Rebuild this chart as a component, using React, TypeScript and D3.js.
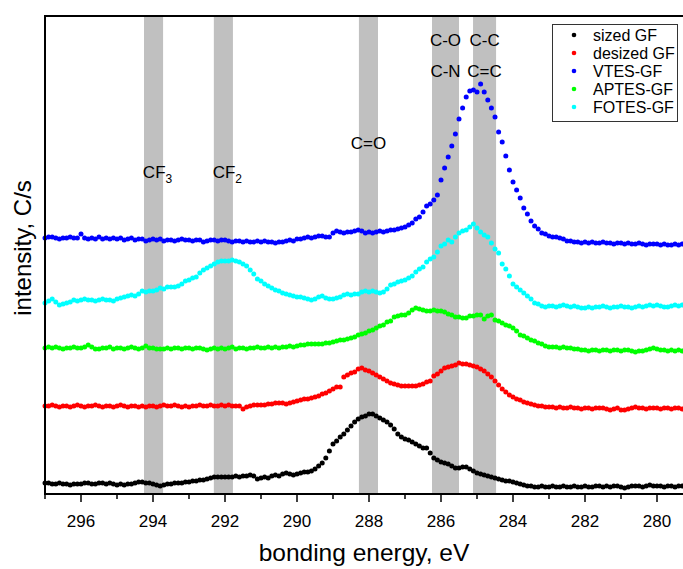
import React from 'react';
import * as d3 from 'd3';

// binding energy grid of the scan, eV (0.1 eV steps)
const energies: number[] = d3.range(0, 180).map(i => +(297 - i * 0.1).toFixed(1));

const seriesNames = ['sized GF', 'desized GF', 'VTES-GF', 'APTES-GF', 'FOTES-GF'];
const seriesColors = ['#000000', '#ff0000', '#0000ff', '#00ff00', '#00ffff'];

// intensities (arbitrary units, curves offset)
const sizedGF = [
  10, 10, 9, 9, 10, 9, 9, 8, 9, 9,
  9, 10, 10, 9, 9, 10, 10, 9, 10, 9,
  8, 9, 8, 9, 9, 10, 11, 11, 10, 10,
  9, 8, 7, 8, 9, 9, 10, 10, 10, 11,
  11, 12, 12, 13, 13, 14, 15, 16, 16, 16,
  16, 16, 16, 17, 16, 17, 17, 18, 17, 14,
  15, 16, 15, 17, 18, 17, 19, 20, 19, 18,
  19, 20, 21, 21, 22, 24, 27, 30, 35, 42,
  49, 52, 56, 59, 63, 67, 71, 74, 76, 77,
  79, 79, 77, 75, 73, 71, 68, 64, 59, 56,
  54, 53, 51, 49, 47, 45, 45, 40, 35, 33,
  31, 30, 29, 27, 25, 25, 26, 26, 24, 22,
  20, 19, 18, 17, 16, 15, 14, 13, 12, 12,
  11, 10, 9, 8, 7, 7, 6, 6, 7, 6,
  6, 7, 6, 6, 7, 6, 6, 7, 6, 6,
  7, 6, 6, 7, 7, 6, 7, 6, 7, 7,
  6, 5, 6, 7, 7, 7, 6, 7, 8, 7,
  7, 7, 6, 7, 7, 6, 7, 7, 6, 7,
];
const desizedGF = [
  87, 87, 88, 87, 86, 87, 87, 86, 87, 88,
  87, 86, 87, 87, 88, 87, 86, 87, 87, 86,
  87, 88, 87, 86, 87, 87, 86, 87, 86, 87,
  87, 86, 87, 88, 87, 87, 88, 87, 86, 87,
  86, 87, 87, 88, 87, 87, 88, 87, 87, 88,
  87, 88, 87, 87, 87, 84, 86, 87, 88, 88,
  88, 88, 89, 89, 90, 90, 90, 89, 90, 91,
  92, 93, 94, 94, 95, 96, 97, 99, 100, 102,
  104, 106, 106, 116, 118, 120, 121, 124, 125, 123,
  122, 120, 118, 116, 114, 112, 110, 109, 108, 107,
  107, 107, 107, 107, 108, 109, 111, 112, 117, 119,
  122, 125, 126, 127, 128, 130, 129, 129, 128, 127,
  126, 124, 122, 119, 116, 112, 108, 104, 101, 98,
  96, 94, 93, 91, 90, 89, 88, 87, 87, 86,
  86, 86, 85, 86, 85, 85, 86, 85, 85, 84,
  85, 85, 84, 85, 85, 85, 84, 83, 84, 85,
  83, 83, 84, 85, 86, 85, 85, 84, 85, 85,
  85, 84, 85, 85, 84, 85, 85, 84, 85, 85,
];
const vtesGF = [
  255, 256, 256, 255, 254, 255, 255, 256, 255, 255,
  259, 255, 254, 255, 254, 256, 254, 255, 254, 255,
  254, 255, 253, 254, 255, 253, 254, 254, 252, 253,
  254, 253, 254, 252, 253, 253, 252, 253, 254, 253,
  253, 252, 253, 253, 251, 252, 253, 253, 252, 253,
  253, 252, 251, 252, 252, 251, 252, 251, 251, 252,
  251, 252, 251, 251, 250, 251, 251, 252, 253, 252,
  254, 254, 255, 256, 255, 256, 257, 257, 256, 256,
  260, 262, 261, 260, 261, 261, 262, 263, 262, 260,
  261, 260, 261, 262, 261, 262, 263, 263, 264, 265,
  266, 268, 270, 274, 276, 281, 287, 289, 293, 298,
  313, 325, 336, 347, 359, 374, 385, 396, 402, 403,
  401, 409, 401, 393, 385, 376, 361, 351, 337, 323,
  311, 303, 295, 285, 279, 272, 267, 264, 260, 259,
  257, 256, 256, 255, 254, 252, 252, 251, 251, 250,
  251, 250, 251, 250, 250, 251, 250, 250, 249, 250,
  250, 249, 250, 249, 249, 250, 249, 248, 249, 249,
  249, 248, 249, 248, 248, 249, 248, 249, 248, 248,
];
const aptesGF = [
  145, 146, 145, 146, 145, 144, 145, 145, 146, 145,
  145, 146, 148, 146, 144, 144, 145, 145, 146, 144,
  145, 145, 144, 145, 146, 145, 144, 145, 147, 145,
  145, 144, 144, 144, 145, 144, 145, 145, 144, 145,
  145, 144, 145, 145, 144, 143, 144, 145, 144, 145,
  144, 145, 146, 144, 145, 145, 144, 145, 145, 146,
  145, 145, 146, 145, 146, 145, 146, 146, 147, 146,
  147, 148, 148, 149, 149, 149, 149, 149, 150, 150,
  151, 152, 153, 153, 154, 155, 156, 158, 159, 160,
  162, 163, 165, 167, 168, 171, 172, 176, 177, 178,
  178, 180, 183, 185, 184, 183, 182, 182, 183, 182,
  182, 181, 179, 178, 176, 176, 175, 175, 177, 177,
  178, 178, 174, 177, 178, 173, 172, 170, 168, 167,
  165, 162, 158, 157, 155, 153, 152, 150, 149, 147,
  146, 146, 146, 145, 146, 145, 145, 144, 144, 143,
  143, 142, 143, 143, 142, 143, 143, 142, 143, 143,
  142, 143, 143, 142, 141, 142, 142, 143, 144, 145,
  144, 143, 143, 142, 143, 142, 143, 142, 143, 142,
];
const fotesGF = [
  190, 192, 194, 191, 188, 189, 190, 191, 193, 192,
  193, 194, 193, 193, 192, 193, 194, 193, 193, 192,
  194, 195, 196, 197, 198, 197, 199, 202, 201, 202,
  202, 203, 205, 204, 206, 206, 206, 207, 209, 212,
  213, 215, 216, 220, 223, 225, 227, 229, 231, 232,
  232, 232, 233, 232, 231, 229, 227, 223, 219, 214,
  212, 209, 207, 205, 203, 202, 200, 199, 198, 197,
  196, 196, 195, 194, 193, 194, 196, 197, 195, 194,
  194, 195, 196, 198, 199, 198, 199, 199, 201, 202,
  201, 202, 201, 200, 201, 204, 208, 209, 211, 212,
  213, 215, 217, 221, 224, 226, 231, 234, 236, 241,
  247, 249, 253, 251, 256, 260, 262, 263, 266, 269,
  265, 261, 258, 256, 250, 244, 240, 229, 224, 217,
  209, 206, 203, 200, 197, 194, 190, 189, 187, 186,
  187, 187, 186, 187, 188, 187, 186, 187, 186, 185,
  185, 186, 185, 186, 186, 187, 186, 185, 186, 186,
  187, 186, 186, 185, 186, 187, 186, 187, 188, 187,
  188, 187, 186, 186, 187, 188, 187, 188, 187, 187,
];
const seriesValues = [sizedGF, desizedGF, vtesGF, aptesGF, fotesGF];

// shaded reference bands (eV limits) and their labels
const bandHigh = [294.25, 292.31, 288.28, 286.25, 285.11];
const bandLow = [293.72, 291.78, 287.75, 285.5, 284.47];
const bandLabels = [['CF', '3'], ['CF', '2'], ['C=O', ''], ['C-O', ''], ['C-C', '']];
const bandLabels2 = ['', '', '', 'C-N', 'C=C'];
const bandLabelY = [178, 178, 149, 46, 46];

const majorTicks = [296, 294, 292, 290, 288, 286, 284, 282, 280];
const minorTicks = [297, 295, 293, 291, 289, 287, 285, 283, 281, 279];

const W = 683;
const H = 569;
const FONT = '"Liberation Sans", Arial, Helvetica, sans-serif';

export default function App() {
  const left = 45, top = 16, bottom = 494;
  const x = d3.scaleLinear().domain([297, 279]).range([left, left + 18 * 36]);
  const y = d3.scaleLinear().domain([0, 477]).range([493, top]);
  const plotRight = W + 10;

  return (
    <svg width={W} height={H} style={{ position: 'absolute', left: 0, top: 0, background: '#fff', fontFamily: FONT }}>
      {/* bands */}
      {bandHigh.map((b, i) => (
        <rect key={'b' + i} x={x(b)} y={top} width={x(bandLow[i]) - x(b)} height={bottom - top} fill="#c0c0c0" />
      ))}
      {/* band labels */}
      {bandLabels.map((l, i) => {
        const cx = (x(bandHigh[i]) + x(bandLow[i])) / 2;
        return (
          <g key={'l' + i}>
            <text x={cx + (l[1] ? 4 : 0)} y={bandLabelY[i]} textAnchor="middle" fontSize={17} fill="#000">
              {l[0]}
              {l[1] && <tspan fontSize={12} dy={5}>{l[1]}</tspan>}
            </text>
            {bandLabels2[i] && (
              <text x={cx} y={bandLabelY[i] + 31} textAnchor="middle" fontSize={17} fill="#000">{bandLabels2[i]}</text>
            )}
          </g>
        );
      })}
      {/* points */}
      {seriesValues.map((vals, s) => (
        <g key={'s' + s} fill={seriesColors[s]}>
          {vals.map((v, i) => (
            <circle key={i} cx={x(energies[i])} cy={y(v)} r={2.5} />
          ))}
        </g>
      ))}
      {/* frame */}
      <line x1={left} x2={left} y1={top - 1} y2={bottom + 1} stroke="#000" strokeWidth={2} />
      <line x1={left - 1} x2={plotRight} y1={top} y2={top} stroke="#000" strokeWidth={2} />
      <line x1={left - 1} x2={plotRight} y1={bottom} y2={bottom} stroke="#000" strokeWidth={2} />
      {/* ticks */}
      {majorTicks.map(t => (
        <g key={'t' + t}>
          <line x1={x(t)} x2={x(t)} y1={bottom} y2={bottom + 8} stroke="#000" strokeWidth={1.5} />
          <text x={x(t)} y={527} textAnchor="middle" fontSize={17} fill="#000">{t}</text>
        </g>
      ))}
      {minorTicks.map(t => (
        <line key={'m' + t} x1={x(t)} x2={x(t)} y1={bottom} y2={bottom + 5} stroke="#000" strokeWidth={1.5} />
      ))}
      {/* axis titles */}
      <text x={364} y={561} textAnchor="middle" fontSize={24.5} fill="#000">bonding energy, eV</text>
      <text transform="translate(31,248) rotate(-90)" textAnchor="middle" fontSize={24} fill="#000">intensity, C/s</text>
      {/* legend */}
      <rect x={552.5} y={24.5} width={125} height={97} fill="#fff" stroke="#333" strokeWidth={1} />
      {seriesNames.map((n, i) => (
        <g key={'g' + i}>
          <circle cx={574} cy={35 + i * 18} r={2.3} fill={seriesColors[i]} />
          <text x={593} y={40.5 + i * 18} fontSize={16} fill="#000">{n}</text>
        </g>
      ))}
    </svg>
  );
}
